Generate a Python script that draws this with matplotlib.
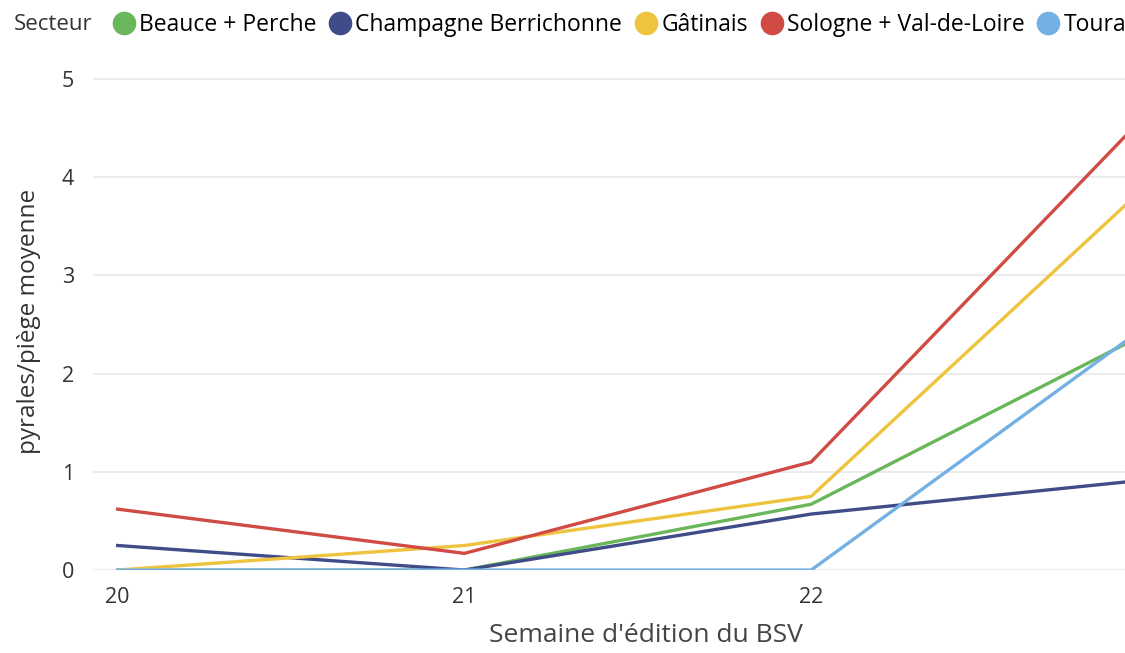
import matplotlib.pyplot as plt
from matplotlib.lines import Line2D

plt.rcParams['font.family'] = ['Open Sans', 'DejaVu Sans']

# Semaine d'édition du BSV (the chart is cut off just before week 23)
semaines = [20, 21, 22, 23]

secteurs = ["Beauce + Perche", "Champagne Berrichonne", "Gâtinais",
            "Sologne + Val-de-Loire", "Touraine"]

# pyrales/piège moyenne (week 23 estimated from the slope)
beauce = [0.0, 0.0, 0.67, 2.47]
champagne = [0.25, 0.0, 0.57, 0.93]
gatinais = [0.0, 0.25, 0.75, 4.02]
sologne = [0.62, 0.17, 1.10, 4.76]
touraine = [0.0, 0.0, 0.0, 2.57]

couleurs = ["#6AB65B", "#404C87", "#EEC33E", "#D14B45", "#73B0E3"]

fig = plt.figure(figsize=(11.25, 6.53), dpi=100)
ax = fig.add_axes([0.083, 0.127, 0.917, 0.76])

series = [beauce, champagne, gatinais, sologne, touraine]
for vals, col in zip(series, couleurs):
    ax.plot(semaines, vals, color=col, linewidth=2.4, solid_joinstyle="miter", zorder=3)

ax.set_xlim(19.93, 22.905)
ax.set_ylim(0, 5.05)
ax.set_xticks([20, 21, 22])
ax.set_yticks([0, 1, 2, 3, 4, 5])
ax.grid(axis="y", color="#E9E9E9", linewidth=1.2)
ax.set_axisbelow(True)
for s in ax.spines.values():
    s.set_visible(False)
ax.tick_params(length=0, labelsize=15.5, labelcolor="#333333", pad=12)
ax.tick_params(axis="y", pad=14)

ax.set_xlabel("Semaine d'édition du BSV", fontsize=19, color="#444444")
ax.xaxis.set_label_coords(0.536, -0.107)
ax.set_ylabel("pyrales/piège moyenne", fontsize=17.5, color="#333333")
ax.yaxis.set_label_coords(-0.051, 0.5)

# legend across the top, clipped at the right like the original
fig.text(0.012, 0.962, "Secteur", fontsize=16, color="#333333", va="center")
handles = [Line2D([], [], linestyle="none", marker="o", markersize=16,
                  markerfacecolor=c, markeredgecolor=c) for c in couleurs]
fig.legend(handles, secteurs, loc="center left", bbox_to_anchor=(0.1, 0.962),
           ncol=5, frameon=False, fontsize=16.5, handletextpad=0.15,
           columnspacing=0.55, handlelength=1.0, borderpad=0, borderaxespad=0)

fig.savefig("out.png", dpi=100)
